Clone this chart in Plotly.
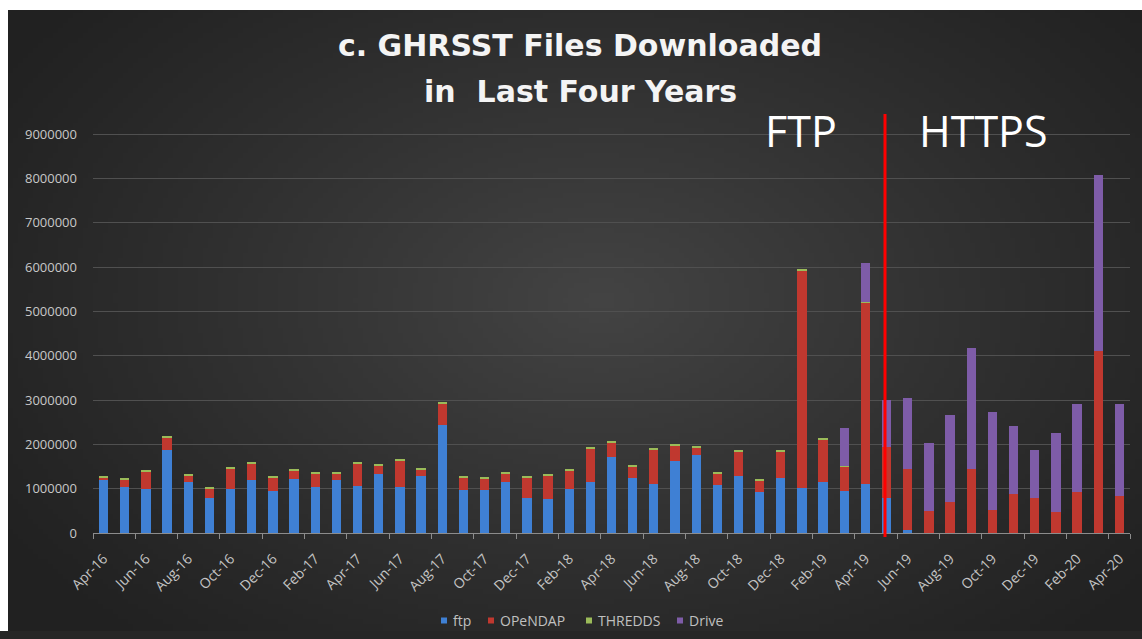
import base64, struct, zlib
import plotly.graph_objects as go

months = ["Apr-16","May-16","Jun-16","Jul-16","Aug-16","Sep-16","Oct-16","Nov-16","Dec-16",
          "Jan-17","Feb-17","Mar-17","Apr-17","May-17","Jun-17","Jul-17","Aug-17","Sep-17","Oct-17","Nov-17","Dec-17",
          "Jan-18","Feb-18","Mar-18","Apr-18","May-18","Jun-18","Jul-18","Aug-18","Sep-18","Oct-18","Nov-18","Dec-18",
          "Jan-19","Feb-19","Mar-19","Apr-19","May-19","Jun-19","Jul-19","Aug-19","Sep-19","Oct-19","Nov-19","Dec-19",
          "Jan-20","Feb-20","Mar-20","Apr-20"]

ftp = [1190000,1040000,1000000,1880000,1150000,780000,1000000,1190000,940000,
       1220000,1040000,1190000,1060000,1340000,1040000,1280000,2440000,960000,960000,1150000,800000,
       770000,1000000,1150000,1710000,1250000,1110000,1620000,1750000,1080000,1280000,930000,1240000,
       1010000,1140000,940000,1100000,800000,60000,0,0,0,0,0,0,
       0,0,0,0]

opendap = [60000,160000,390000,280000,140000,230000,450000,380000,310000,
           200000,310000,160000,510000,180000,590000,160000,480000,290000,260000,200000,450000,
           520000,420000,750000,340000,250000,770000,350000,190000,260000,570000,260000,590000,
           4920000,980000,570000,4100000,1150000,1380000,500000,710000,1440000,520000,880000,800000,
           480000,920000,4110000,840000]

thredds = [30000]*35 + [10000, 10000] + [0]*12

drive = [0]*35 + [840000,880000,1060000,1610000,1530000,1950000,2730000,2200000,1530000,1080000,
                  1780000,1990000,3970000,2070000]

series_names = ["ftp", "OPeNDAP", "THREDDS", "Drive"]
yticks = [0,1000000,2000000,3000000,4000000,5000000,6000000,7000000,8000000,9000000]

# ---------- background gradient image (decoration) ----------
def make_png(w, h, fn):
    raw = bytearray()
    for j in range(h):
        raw.append(0)
        for i in range(w):
            v = fn(i, j)
            raw += bytes((v, v, v))
    def chunk(t, d):
        c = struct.pack(">I", len(d)) + t + d
        return c + struct.pack(">I", zlib.crc32(t + d) & 0xffffffff)
    png = b"\x89PNG\r\n\x1a\n" + chunk(b"IHDR", struct.pack(">IIBBBBB", w, h, 8, 2, 0, 0, 0))
    png += chunk(b"IDAT", zlib.compress(bytes(raw), 9)) + chunk(b"IEND", b"")
    return "data:image/png;base64," + base64.b64encode(png).decode()

W, H = 1142, 631
GW, GH = 228, 126
def shade(i, j):
    x = i / (GW - 1) * W
    y = j / (GH - 1) * H
    dx = (x - 600) / 720.0
    dy = (y - 300) / 470.0
    d = (dx * dx + dy * dy) ** 0.5
    t = max(0.0, 1.0 - d)
    return int(0x21 + (0x44 - 0x21) * t ** 1.1)
bg = make_png(GW, GH, shade)

# ---------- geometry ----------
L, R, T, B = 93, 12, 113, 98
PW, PH = W - L - R, H - T - B

def px(x):
    return (x - L) / PW

def py(y):
    return (H - B - y) / PH

fig = go.Figure()
colors = {"ftp": "#3f80d4", "OPeNDAP": "#c0382f", "THREDDS": "#9bbb59", "Drive": "#7e5ca8"}
for name, vals in zip(series_names, [ftp, opendap, thredds, drive]):
    fig.add_trace(go.Bar(x=months, y=vals, name=name, marker_color=colors[name],
                         marker_line_width=0, showlegend=False))

fig.update_layout(
    width=W, height=H, autosize=False,
    barmode="stack", bargap=0.56,
    paper_bgcolor="#222222", plot_bgcolor="rgba(0,0,0,0)",
    margin=dict(l=L, r=R, t=T, b=B, pad=0),
    font=dict(family="Open Sans"),
)

fig.add_layout_image(dict(source=bg, xref="paper", yref="paper",
                          x=px(0), y=py(0), sizex=W / PW, sizey=H / PH,
                          xanchor="left", yanchor="top", sizing="stretch", layer="below"))

# white page border strips (top and left) as in the reference
fig.add_shape(type="rect", xref="paper", yref="paper", x0=px(0), x1=px(W), y0=py(0), y1=py(10),
              fillcolor="#ffffff", line_width=0, layer="above")
fig.add_shape(type="rect", xref="paper", yref="paper", x0=px(0), x1=px(8), y0=py(0), y1=py(H),
              fillcolor="#ffffff", line_width=0, layer="above")

fig.update_xaxes(type="category", range=[-0.5, len(months) - 0.5],
                 tickvals=months[::2], ticktext=months[::2], tickson="boundaries",
                 tickangle=-45, tickfont=dict(family="Open Sans", size=14, color="#c4c4c4"),
                 ticks="outside", ticklen=5, tickcolor="#8c8c8c", ticklabelstandoff=11,
                 showline=True, linecolor="#8c8c8c", linewidth=1, showgrid=False, zeroline=False)
fig.update_yaxes(range=[0, 9480000], tickvals=yticks, ticktext=[str(v) for v in yticks],
                 tickfont=dict(family="Open Sans", size=13, color="#c8c8c8"),
                 showgrid=True, gridcolor="#505050", gridwidth=1, zeroline=False,
                 ticks="", showline=False, ticklabelstandoff=15)

# red divider between FTP and HTTPS
fig.add_shape(type="line", xref="paper", yref="paper", x0=px(885), x1=px(885),
              y0=py(114), y1=py(537), line=dict(color="#ff0000", width=3))

for text, y in [("c. GHRSST Files Downloaded", 46), ("in  Last Four Years", 92)]:
    fig.add_annotation(text=f"<b>{text}</b>", xref="paper", yref="paper", x=px(580), y=py(y),
                       xanchor="center", yanchor="middle", showarrow=False,
                       font=dict(family="DejaVu Sans", size=30, color="#f4f4f4"))
for text, x in [("FTP", 801), ("HTTPS", 983)]:
    fig.add_annotation(text=text, xref="paper", yref="paper", x=px(x), y=py(131),
                       xanchor="center", yanchor="middle", showarrow=False,
                       font=dict(family="Open Sans", size=43, color="#ffffff"))

# custom compact legend (small square keys)
legend_x = [444, 491, 589, 680]
for name, lx in zip(series_names, legend_x):
    fig.add_shape(type="rect", xref="paper", yref="paper", x0=px(lx - 3), x1=px(lx + 3),
                  y0=py(617.5), y1=py(623.5), fillcolor=colors[name], line_width=0)
    fig.add_annotation(text=name, xref="paper", yref="paper", x=px(lx + 7), y=py(620.5),
                       xanchor="left", yanchor="middle", showarrow=False,
                       font=dict(family="Open Sans", size=14, color="#c0c0c0"))

css = "margin:0;padding:0;overflow:hidden;background:#262626;"
fig.write_html("out.html", config={"displayModeBar": False},
               post_script="document.documentElement.style.cssText='" + css + "';"
                           "document.body.style.cssText='" + css + "';")
